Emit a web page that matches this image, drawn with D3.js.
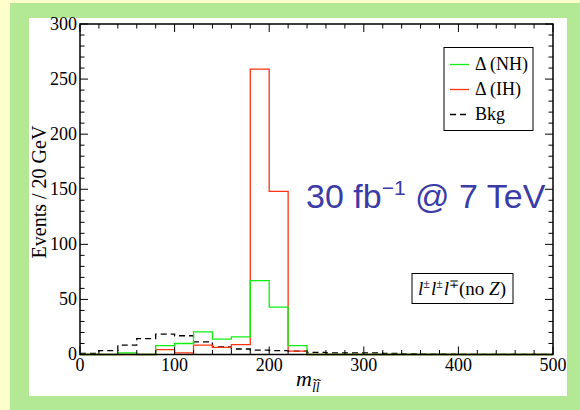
<!DOCTYPE html>
<html>
<head>
<meta charset="utf-8">
<script src="https://cdn.jsdelivr.net/npm/d3@7"></script>
<style>
  html, body { margin: 0; padding: 0; background: #ffffcc; }
  svg { display: block; }
</style>
</head>
<body>
<div id="chart"></div>
<script>
// histogram bins, 20 GeV wide, 0..500
const BIN_EDGES = d3.range(0, 520, 20);
const NH  = [0, 0, 1.5, 0, 8, 10, 20.5, 14, 16, 67, 43, 8, 0, 0, 0, 0, 0, 0, 0, 0, 0, 0, 0, 0, 0];
const IH  = [0, 0, 0, 0, 4.5, 1.5, 8.5, 6.5, 9, 259, 148, 3, 0, 0, 0, 0, 0, 0, 0, 0, 0, 0, 0, 0, 0];
const BKG = [1, 3.5, 8.5, 14.5, 18.5, 17, 11.5, 7, 5, 4, 3.5, 3, 2, 1.5, 1.5, 1.5, 1, 0.5, 0.3, 0.3, 0.2, 0.2, 0.2, 0.2, 0.2];
const X_TICKS = [0, 100, 200, 300, 400, 500];
const Y_TICKS = [0, 50, 100, 150, 200, 250, 300];
const LEGEND = [
  { label: "\u0394 (NH)", color: "#11ee11", dash: null },
  { label: "\u0394 (IH)", color: "#ff3311", dash: null },
  { label: "Bkg", color: "#000", dash: "6 4" },
];

const totalW = 580, totalH = 410;
const svg = d3.select("#chart").append("svg")
  .attr("width", totalW).attr("height", totalH);

/* ── Frames ── */
svg.append("rect").attr("width", totalW).attr("height", totalH).attr("fill", "#ffffcc");
svg.append("rect").attr("x", 10).attr("y", 3).attr("width", 570).attr("height", 407).attr("fill", "#b3e994");
svg.append("rect").attr("x", 29).attr("y", 18).attr("width", 538).attr("height", 378).attr("fill", "#fff");

/* ── Scales ── */
const x = d3.scaleLinear().domain([0, 500]).range([80, 553]);
const y = d3.scaleLinear().domain([0, 300]).range([354.5, 24]);
const serif = "Liberation Serif, Times New Roman, serif";

/* ── Histograms ── */
const step = d3.line().curve(d3.curveStepAfter).x(d => x(d[0])).y(d => y(d[1]));
const toPts = vals => vals.map((v, i) => [BIN_EDGES[i], v]).concat([[500, vals[vals.length - 1]]]);

svg.append("path").attr("d", step(toPts(BKG))).attr("fill", "none")
  .attr("stroke", "#000").attr("stroke-width", 1.3).attr("stroke-dasharray", "6 4");
svg.append("path").attr("d", step(toPts(IH))).attr("fill", "none")
  .attr("stroke", LEGEND[1].color).attr("stroke-width", 1.3);
svg.append("path").attr("d", step(toPts(NH))).attr("fill", "none")
  .attr("stroke", LEGEND[0].color).attr("stroke-width", 1.3);

/* ── Axes (inward ticks on all four sides) ── */
const frame = svg.append("g").attr("stroke", "#000");
frame.append("rect").attr("x", 80).attr("y", 24).attr("width", 473).attr("height", 330.5)
  .attr("fill", "none").attr("stroke-width", 1.5);

d3.range(0, 520, 20).forEach(v => {
  const len = v % 100 === 0 ? 8 : 4.5;
  frame.append("line").attr("x1", x(v)).attr("x2", x(v)).attr("y1", y(0)).attr("y2", y(0) - len).attr("stroke-width", 1);
  frame.append("line").attr("x1", x(v)).attr("x2", x(v)).attr("y1", y(300)).attr("y2", y(300) + len).attr("stroke-width", 1);
});
d3.range(0, 310, 10).forEach(v => {
  const len = v % 50 === 0 ? 8 : 4.5;
  frame.append("line").attr("x1", x(0)).attr("x2", x(0) + len).attr("y1", y(v)).attr("y2", y(v)).attr("stroke-width", 1);
  frame.append("line").attr("x1", x(500)).attr("x2", x(500) - len).attr("y1", y(v)).attr("y2", y(v)).attr("stroke-width", 1);
});

svg.append("g").selectAll("text").data(X_TICKS).join("text")
  .attr("x", d => x(d)).attr("y", 371)
  .attr("text-anchor", "middle").attr("font-family", serif).attr("font-size", 18).attr("fill", "#000")
  .text(d => d);

svg.append("g").selectAll("text").data(Y_TICKS).join("text")
  .attr("x", 77).attr("y", d => y(d) + 5.5)
  .attr("text-anchor", "end").attr("font-family", serif).attr("font-size", 18).attr("fill", "#000")
  .text(d => d);

/* ── Axis labels ── */
svg.append("text")
  .attr("transform", "translate(46,192) rotate(-90)")
  .attr("text-anchor", "middle").attr("font-family", serif).attr("font-size", 20)
  .text("Events / 20 GeV");

const xl = svg.append("text").attr("x", 296).attr("y", 386)
  .attr("font-family", serif).attr("font-size", 22).attr("font-style", "italic");
xl.append("tspan").text("m");
xl.append("tspan").attr("dy", 6).attr("font-size", 14).text("l\u0303l\u0303");

/* ── Legend ── */
const lg = svg.append("g");
lg.append("rect").attr("x", 444).attr("y", 47.5).attr("width", 89).attr("height", 83)
  .attr("fill", "#fff").attr("stroke", "#000").attr("stroke-width", 1);
LEGEND.forEach((d, i) => {
  const yy = 64.5 + i * 25;
  lg.append("line").attr("x1", 450).attr("x2", 469).attr("y1", yy).attr("y2", yy)
    .attr("stroke", d.color).attr("stroke-width", 1.3).attr("stroke-dasharray", d.dash);
  lg.append("text").attr("x", 475).attr("y", yy + 5.5)
    .attr("font-family", serif).attr("font-size", 18).text(d.label);
});

/* ── Annotations ── */
const ann = svg.append("text").attr("x", 306).attr("y", 208)
  .attr("font-family", "Liberation Sans, Arial, sans-serif").attr("font-size", 34).attr("fill", "#3b3ba8");
ann.append("tspan").text("30 fb");
ann.append("tspan").attr("dy", -13).attr("font-size", 21).text("\u22121");
ann.append("tspan").attr("dy", 13).text(" @ 7 TeV");

svg.append("rect").attr("x", 412).attr("y", 273.5).attr("width", 101).attr("height", 30)
  .attr("fill", "#fff").attr("stroke", "#000").attr("stroke-width", 1);
const ch = svg.append("text").attr("x", 418).attr("y", 295)
  .attr("font-family", serif).attr("font-size", 19);
ch.append("tspan").attr("font-style", "italic").text("l");
ch.append("tspan").attr("dy", -7).attr("font-size", 12).text("\u00b1");
ch.append("tspan").attr("dy", 7).attr("dx", 1).attr("font-style", "italic").text("l");
ch.append("tspan").attr("dy", -7).attr("font-size", 12).text("\u00b1");
ch.append("tspan").attr("dy", 7).attr("dx", 1).attr("font-style", "italic").text("l");
ch.append("tspan").attr("dy", -7).attr("font-size", 12).text("\u2213");
ch.append("tspan").attr("dy", 7).text("(no ");
ch.append("tspan").attr("font-style", "italic").text("Z");
ch.append("tspan").text(")");
</script>
</body>
</html>
